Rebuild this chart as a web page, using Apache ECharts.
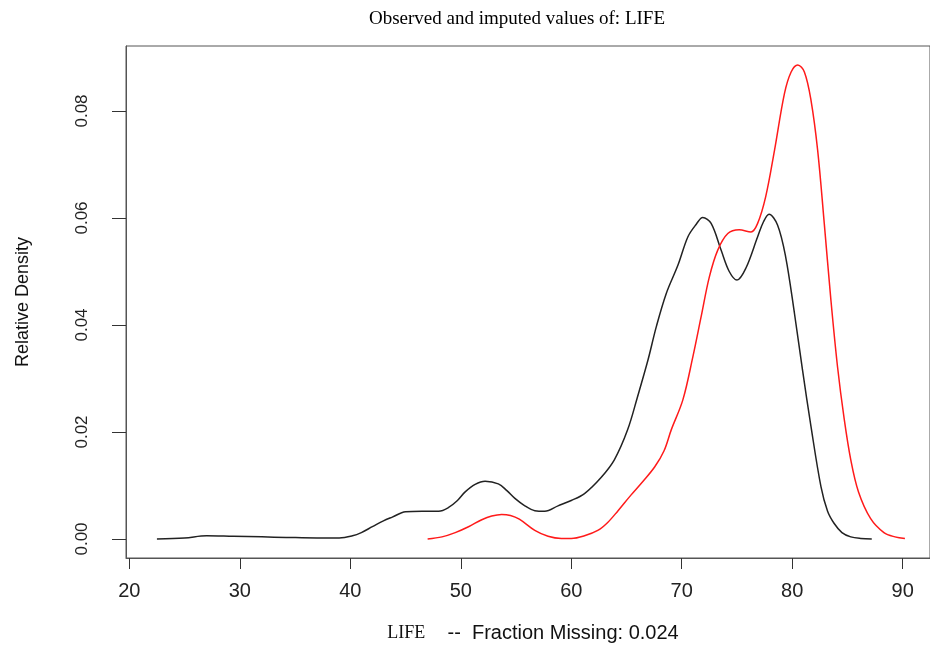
<!DOCTYPE html>
<html>
<head>
<meta charset="utf-8">
<script src="https://cdn.jsdelivr.net/npm/echarts@6/dist/echarts.min.js"></script>
<style>
html,body{margin:0;padding:0;background:#fff;}
#chart{width:930px;height:650px;}
</style>
</head>
<body>
<div id="chart"></div>
<script>
// Observed values (black density curve)
var obsX = [22.5, 25, 27, 29.4, 32, 34.2, 37, 39, 40.2, 41, 42, 43, 43.8, 45, 46.5, 48, 48.9, 49.7, 50.4, 51.3, 52.2, 53.4, 54.2, 54.9, 55.8, 56.7, 57.6, 58.8, 60, 61.2, 62.7, 63.9, 65.1, 66, 66.95, 67.7, 68.6, 69.66, 70.56, 71.3, 71.9, 72.66, 73.56, 74.3, 75, 75.8, 76.87, 77.4, 77.9, 78.67, 79.4, 80.2, 80.93, 81.7, 82.6, 83.2, 83.8, 84.5, 85.3, 86.2, 87.2];
var obsY = [0, 0.0002, 0.0006, 0.0005, 0.0004, 0.0003, 0.0002, 0.0002, 0.0006, 0.0012, 0.0023, 0.0034, 0.0041, 0.0051, 0.0052, 0.0052, 0.0059, 0.0072, 0.0088, 0.0102, 0.0108, 0.0103, 0.009, 0.0076, 0.0062, 0.0053, 0.0052, 0.0062, 0.0072, 0.0085, 0.0115, 0.0148, 0.0204, 0.0266, 0.0335, 0.0397, 0.0459, 0.0512, 0.0565, 0.0588, 0.0601, 0.059, 0.054, 0.050, 0.0484, 0.0506, 0.0565, 0.0593, 0.0607, 0.0587, 0.0528, 0.0422, 0.0316, 0.021, 0.0098, 0.0052, 0.0029, 0.0012, 0.0004, 0.0001, 0];
// Imputed values (red density curve)
var impX = [47, 48.3, 49.5, 50.7, 51.9, 52.8, 53.7, 54.5, 55.3, 56.7, 57.9, 59.1, 60, 61.2, 62.4, 63.3, 64.2, 65.4, 66.5, 67.56, 68.4, 69.05, 70.1, 71, 71.76, 72.5, 73.26, 74.17, 75.2, 76.27, 76.87, 77.6, 78.4, 79.3, 79.9, 80.5, 81.1, 81.7, 82.3, 82.9, 83.5, 84.1, 84.7, 85.3, 86, 87.1, 88.3, 89.3, 90.2];
var impY = [0, 0.0004, 0.0012, 0.0023, 0.0036, 0.0043, 0.0046, 0.0044, 0.0037, 0.0016, 0.0005, 0.0001, 0.0001, 0.0006, 0.0016, 0.0031, 0.0052, 0.0082, 0.0108, 0.0135, 0.0165, 0.0204, 0.026, 0.034, 0.0416, 0.049, 0.054, 0.0571, 0.0578, 0.0574, 0.059, 0.064, 0.0727, 0.0833, 0.0873, 0.0886, 0.0873, 0.082, 0.0727, 0.059, 0.0447, 0.0322, 0.0225, 0.0148, 0.0088, 0.0038, 0.0012, 0.0004, 0.0001];
// Tick labels
var xTicks = [20, 30, 40, 50, 60, 70, 80, 90];
var yTicks = [0, 0.02, 0.04, 0.06, 0.08];

function pairs(xs, ys) { return xs.map(function (x, i) { return [x, ys[i]]; }); }

var chart = echarts.init(document.getElementById('chart'), null, {renderer: 'canvas'});
chart.setOption({
  animation: false,
  backgroundColor: '#ffffff',
  title: {
    text: 'Observed and imputed values of: LIFE',
    left: 512,
    top: 5,
    textAlign: 'center',
    textStyle: {fontFamily: '"Liberation Serif", "Times New Roman", serif', fontSize: 19, fontWeight: 'normal', color: '#000'}
  },
  grid: {left: 126, top: 46, right: -3, bottom: 92, show: true, borderColor: '#555', borderWidth: 1, containLabel: false},
  xAxis: {
    type: 'value',
    min: 19.7,
    max: 92.47,
    splitLine: {show: false},
    axisLine: {show: true, onZero: false, lineStyle: {color: '#555', width: 1}},
    axisTick: {show: true, customValues: xTicks, length: 11, lineStyle: {color: '#333'}},
    axisLabel: {customValues: xTicks, margin: 23, fontFamily: '"Liberation Sans", Arial, sans-serif', fontSize: 20, color: '#222',
      formatter: function (v) { return String(Math.round(v)); }},
    name: '{a|LIFE}{b|    --  Fraction Missing: 0.024}',
    nameLocation: 'middle',
    nameGap: 65,
    nameTextStyle: {
      padding: [0, 0, 0, 10],
      rich: {
        a: {fontFamily: '"Liberation Serif", "Times New Roman", serif', fontSize: 18, color: '#111'},
        b: {fontFamily: '"Liberation Sans", Arial, sans-serif', fontSize: 20, color: '#111'}
      }
    }
  },
  yAxis: {
    type: 'value',
    min: -0.00355,
    max: 0.09215,
    splitLine: {show: false},
    axisLine: {show: true, onZero: false, lineStyle: {color: '#555', width: 1}},
    axisTick: {show: true, customValues: yTicks, length: 14, lineStyle: {color: '#333'}},
    axisLabel: {customValues: yTicks, rotate: 90, margin: 35, fontFamily: '"Liberation Sans", Arial, sans-serif', fontSize: 17, color: '#222',
      formatter: function (v) { return v.toFixed(2); }},
    name: 'Relative Density',
    nameLocation: 'middle',
    nameGap: 94,
    nameRotate: 90,
    nameTextStyle: {fontFamily: '"Liberation Sans", Arial, sans-serif', fontSize: 18, color: '#111'}
  },
  series: [
    {name: 'Observed', type: 'line', data: pairs(obsX, obsY), showSymbol: false, smooth: 0.35,
      lineStyle: {color: '#222', width: 1.5}, itemStyle: {color: '#222'}},
    {name: 'Imputed', type: 'line', data: pairs(impX, impY), showSymbol: false, smooth: 0.35,
      lineStyle: {color: '#ff1a1a', width: 1.5}, itemStyle: {color: '#ff1a1a'}}
  ]
});
</script>
</body>
</html>
